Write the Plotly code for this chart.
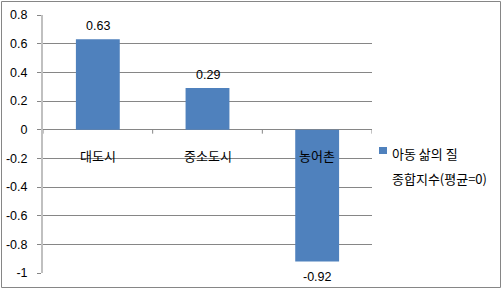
import plotly.graph_objects as go

categories = ["대도시", "중소도시", "농어촌"]
values = [0.63, 0.29, -0.92]
value_labels = ["0.63", "0.29", "-0.92"]
series_name_line1 = "아동 삶의 질"
series_name_line2 = "종합지수(평균=0)"
y_ticks = [-1, -0.8, -0.6, -0.4, -0.2, 0, 0.2, 0.4, 0.6, 0.8]
y_tick_text = ["-1", "-0.8", "-0.6", "-0.4", "-0.2", "0", "0.2", "0.4", "0.6", "0.8"]

W, H = 504, 292
ML, MR, MT, MB = 43, 132, 15, 19
PW, PH = W - ML - MR, H - MT - MB
BAR = "#4F81BD"
GRID = "#868686"

def px(x):
    return (x - ML) / PW

def py(y):
    return (H - MB - y) / PH

fig = go.Figure()
fig.add_trace(go.Bar(x=categories, y=values, marker=dict(color=BAR, line=dict(width=0)),
                     width=0.4, showlegend=False, hoverinfo="skip"))

ann = []
for c, v, t in zip(categories, values, value_labels):
    ann.append(dict(x=c, y=v, xref="x", yref="y", text=t, showarrow=False,
                    yshift=13 if v >= 0 else -15,
                    font=dict(family="Liberation Sans, Arial", size=12.5, color="#000000")))
    ann.append(dict(x=c, y=0, xref="x", yref="y", text=c, showarrow=False, yshift=-26,
                    font=dict(family="Noto Sans CJK KR", size=13, color="#000000")))

ann.append(dict(x=px(390), y=py(153), xref="paper", yref="paper", text=series_name_line1,
                showarrow=False, xanchor="left", yanchor="middle",
                font=dict(family="Noto Sans CJK KR", size=13, color="#000000")))
ann.append(dict(x=px(390), y=py(178), xref="paper", yref="paper", text=series_name_line2,
                showarrow=False, xanchor="left", yanchor="middle",
                font=dict(family="Noto Sans CJK KR", size=13, color="#000000")))

shapes = [
    dict(type="rect", xref="paper", yref="paper", x0=px(1.5), x1=px(500.5), y0=py(287.5), y1=py(1.5),
         line=dict(color=GRID, width=1), fillcolor="rgba(0,0,0,0)", layer="below"),
    dict(type="rect", xref="paper", yref="paper", x0=px(379), x1=px(387), y0=py(154), y1=py(147),
         line=dict(width=0), fillcolor=BAR),
]
# x-tick marks at category boundaries, drawn as short pixel lines below the zero line
for b in [-0.5, 0.5, 1.5, 2.5]:
    shapes.append(dict(type="line", xref="x", yref="y", x0=b, x1=b, y0=0, y1=-4,
                       ysizemode="pixel", yanchor=0, line=dict(color=GRID, width=1)))

fig.update_layout(
    template="none",
    width=W, height=H,
    margin=dict(l=ML, r=MR, t=MT, b=MB, pad=0, autoexpand=False),
    paper_bgcolor="white", plot_bgcolor="white",
    bargap=0.6,
    annotations=ann,
    shapes=shapes,
    xaxis=dict(range=[-0.5, 2.5], showticklabels=False, showgrid=False, zeroline=False,
               showline=False, fixedrange=True, automargin=False),
    yaxis=dict(range=[-1, 0.8], tickvals=y_ticks, ticktext=y_tick_text,
               showgrid=True, gridcolor=GRID, gridwidth=1,
               zeroline=True, zerolinecolor=GRID, zerolinewidth=1,
               showline=True, linecolor="#C0C0C0", linewidth=2,
               ticks="outside", ticklen=4, tickcolor=GRID, tickwidth=1,
               ticklabelstandoff=7, automargin=False,
               tickfont=dict(family="Liberation Sans, Arial", size=12.5, color="#000000"),
               fixedrange=True),
    showlegend=False,
)

fig.write_html("out.html")
